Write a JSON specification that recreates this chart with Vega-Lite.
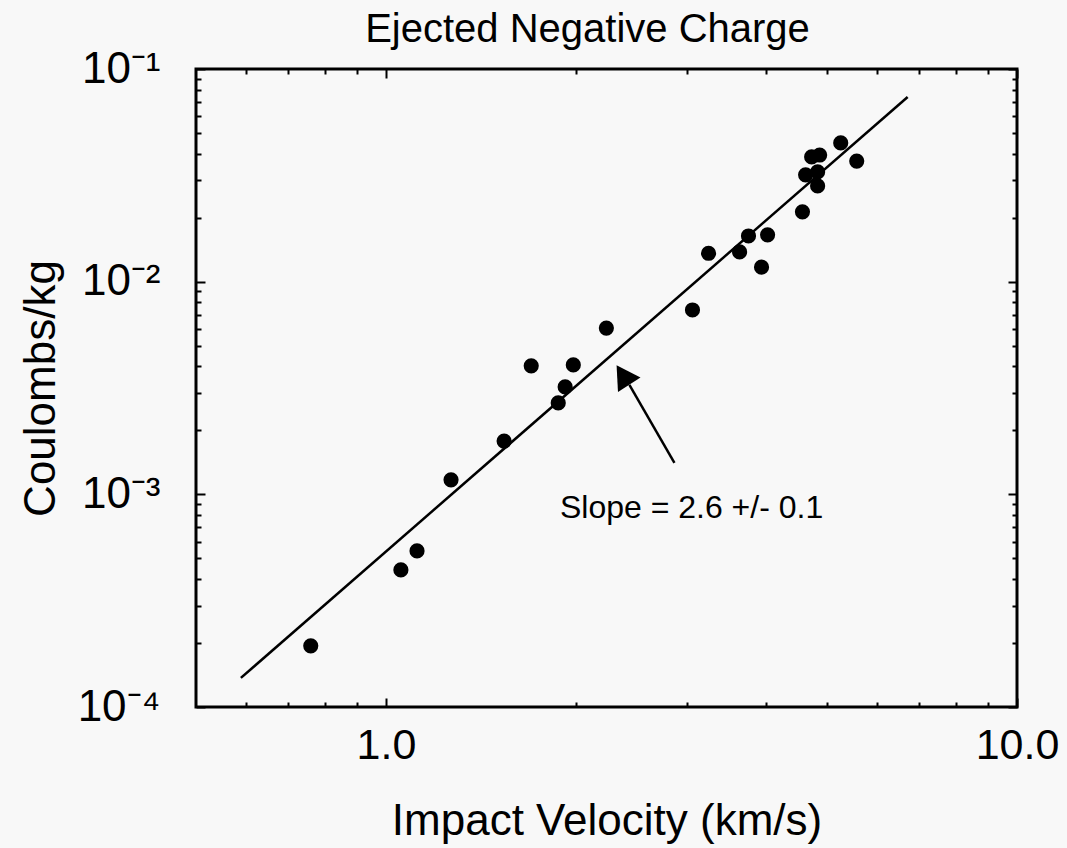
{
  "$schema": "https://vega.github.io/schema/vega-lite/v6.json",
  "autosize": {"type": "none"},
  "width": 821,
  "height": 638,
  "padding": {"left": 196, "top": 69, "right": 50, "bottom": 141},
  "background": "#f8f8f8",
  "title": {
    "text": "Ejected Negative Charge",
    "font": "Liberation Sans",
    "fontSize": 40,
    "fontWeight": "normal",
    "color": "black",
    "anchor": "middle",
    "dx": -19,
    "offset": -3
  },
  "config": {
    "view": {"stroke": "black", "strokeWidth": 3},
    "axis": {
      "domain": false,
      "grid": false,
      "tickColor": "black",
      "tickWidth": 2,
      "labelColor": "black",
      "titleColor": "black",
      "labelFont": "Liberation Sans",
      "titleFont": "Liberation Sans",
      "titleFontWeight": "normal"
    }
  },
  "datasets": {
    "points": [
      {"v": 0.760, "q": 0.000194},
      {"v": 1.056, "q": 0.000441},
      {"v": 1.120, "q": 0.000542},
      {"v": 1.268, "q": 0.00117},
      {"v": 1.539, "q": 0.00178},
      {"v": 1.699, "q": 0.00402},
      {"v": 1.875, "q": 0.00269},
      {"v": 1.923, "q": 0.00320},
      {"v": 1.981, "q": 0.00406},
      {"v": 2.235, "q": 0.00605},
      {"v": 3.060, "q": 0.00736},
      {"v": 3.245, "q": 0.0136},
      {"v": 3.634, "q": 0.0138},
      {"v": 3.754, "q": 0.0164},
      {"v": 4.025, "q": 0.0166},
      {"v": 3.937, "q": 0.0117},
      {"v": 4.571, "q": 0.0213},
      {"v": 4.624, "q": 0.0318},
      {"v": 4.727, "q": 0.0386},
      {"v": 4.867, "q": 0.0394},
      {"v": 4.831, "q": 0.0328},
      {"v": 4.831, "q": 0.0282},
      {"v": 5.256, "q": 0.0449},
      {"v": 5.572, "q": 0.0369}
    ],
    "fit": [
      {"v": 0.589, "q": 0.000137},
      {"v": 6.71, "q": 0.0738}
    ],
    "shaft": [
      {"v": 2.865, "q": 0.001406},
      {"v": 2.431, "q": 0.00327}
    ],
    "head": [
      {"v": 2.374, "q": 0.00364}
    ],
    "note": [
      {"v": 3.05, "q": 0.000863, "label": "Slope = 2.6 +/- 0.1"}
    ]
  },
  "layer": [
    {
      "data": {"name": "points"},
      "mark": {"type": "circle", "size": 230, "color": "black", "opacity": 1},
      "encoding": {
        "x": {
          "field": "v", "type": "quantitative",
          "scale": {"type": "log", "domain": [0.5, 10], "nice": false},
          "axis": {
            "orient": "bottom",
            "values": [1, 10],
            "labelExpr": "datum.value < 5 ? '1.0' : '10.0'",
            "tickSize": -9,
            "labelPadding": 26,
            "labelFontSize": 43,
            "labelFlush": false,
            "labelOverlap": false,
            "title": "Impact Velocity (km/s)",
            "titleFontSize": 44,
            "titlePadding": 32
          }
        },
        "y": {
          "field": "q", "type": "quantitative",
          "scale": {"type": "log", "domain": [0.0001, 0.1], "nice": false},
          "axis": {
            "orient": "left",
            "values": [0.0001, 0.001, 0.01, 0.1],
            "labelExpr": "datum.value > 0.05 ? '10⁻¹' : datum.value > 0.005 ? '10⁻²' : datum.value > 0.0005 ? '10⁻³' : '10⁻⁴'",
            "tickSize": -9,
            "labelPadding": 45,
            "labelFontSize": 44,
            "labelFlush": false,
            "labelOverlap": false,
            "title": "Coulombs/kg",
            "titleFontSize": 44,
            "titlePadding": 14
          }
        }
      }
    },
    {
      "data": {"name": "fit"},
      "mark": {"type": "line", "color": "black", "strokeWidth": 2.5},
      "encoding": {
        "x": {
          "field": "v", "type": "quantitative",
          "axis": {
            "orient": "bottom",
            "values": [0.6, 0.7, 0.8, 0.9, 2, 3, 4, 5, 6, 7, 8, 9],
            "labels": false,
            "tickSize": -5,
            "title": null
          }
        },
        "y": {
          "field": "q", "type": "quantitative",
          "axis": {
            "orient": "left",
            "values": [0.0002, 0.0003, 0.0004, 0.0005, 0.0006, 0.0007, 0.0008, 0.0009, 0.002, 0.003, 0.004, 0.005, 0.006, 0.007, 0.008, 0.009, 0.02, 0.03, 0.04, 0.05, 0.06, 0.07, 0.08, 0.09],
            "labels": false,
            "tickSize": -5,
            "title": null
          }
        }
      }
    },
    {
      "data": {"name": "shaft"},
      "mark": {"type": "line", "color": "black", "strokeWidth": 2.5},
      "encoding": {
        "x": {
          "field": "v", "type": "quantitative",
          "axis": {
            "orient": "top",
            "values": [1, 10],
            "labels": false,
            "tickSize": -9,
            "title": null
          }
        },
        "y": {
          "field": "q", "type": "quantitative",
          "axis": {
            "orient": "right",
            "values": [0.0001, 0.001, 0.01, 0.1],
            "labels": false,
            "tickSize": -9,
            "title": null
          }
        }
      }
    },
    {
      "data": {"name": "head"},
      "mark": {"type": "point", "shape": "triangle-up", "size": 720, "filled": true, "color": "black", "opacity": 1, "angle": 327},
      "encoding": {
        "x": {
          "field": "v", "type": "quantitative",
          "axis": {
            "orient": "top",
            "values": [0.6, 0.7, 0.8, 0.9, 2, 3, 4, 5, 6, 7, 8, 9],
            "labels": false,
            "tickSize": -5,
            "title": null
          }
        },
        "y": {
          "field": "q", "type": "quantitative",
          "axis": {
            "orient": "right",
            "values": [0.0002, 0.0003, 0.0004, 0.0005, 0.0006, 0.0007, 0.0008, 0.0009, 0.002, 0.003, 0.004, 0.005, 0.006, 0.007, 0.008, 0.009, 0.02, 0.03, 0.04, 0.05, 0.06, 0.07, 0.08, 0.09],
            "labels": false,
            "tickSize": -5,
            "title": null
          }
        }
      }
    },
    {
      "data": {"name": "note"},
      "mark": {"type": "text", "font": "Liberation Sans", "fontSize": 32, "color": "black", "align": "center", "baseline": "middle"},
      "encoding": {
        "x": {"field": "v", "type": "quantitative", "axis": null},
        "y": {"field": "q", "type": "quantitative", "axis": null},
        "text": {"field": "label"}
      }
    }
  ],
  "resolve": {"axis": {"x": "independent", "y": "independent"}}
}
